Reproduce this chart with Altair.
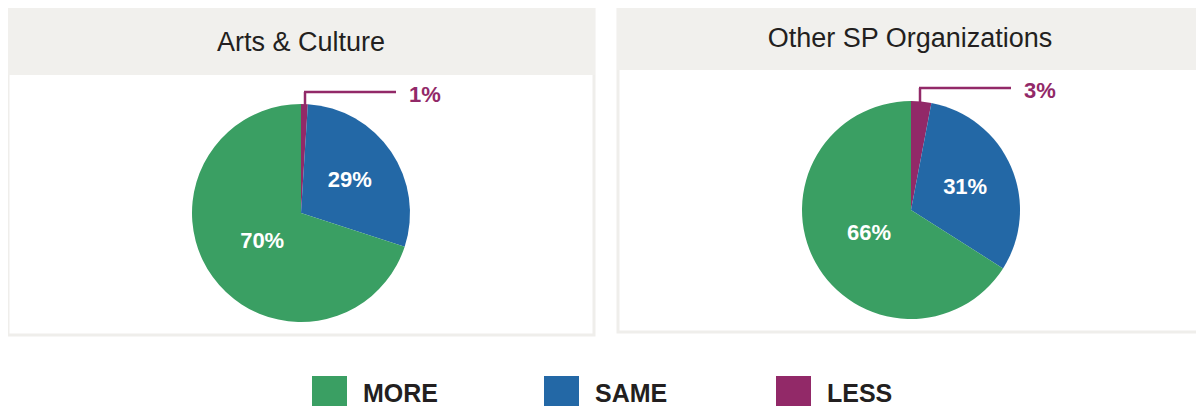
import altair as alt
import pandas as pd

# ---- data ----
GROUPS = ["Arts & Culture", "Arts & Culture", "Arts & Culture",
          "Other SP Organizations", "Other SP Organizations", "Other SP Organizations"]
CATEGORIES = ["LESS", "SAME", "MORE", "LESS", "SAME", "MORE"]
VALUES = [1, 29, 70, 3, 31, 66]
PANEL_TITLES = ["Arts & Culture", "Other SP Organizations"]
LEGEND_ORDER = ["MORE", "SAME", "LESS"]
COLORS = ["#3a9f63", "#2368a6", "#922968"]

df = pd.DataFrame({"group": GROUPS, "category": CATEGORIES, "value": VALUES})
df["label"] = df["value"].astype(str) + "%"
titles_df = pd.DataFrame({"title": PANEL_TITLES})

FONT = "Liberation Sans"
PURPLE = COLORS[2]
BORDER = "#efeeeb"
HEADER = "#f1f0ed"

color_scale = alt.Scale(domain=LEGEND_ORDER, range=COLORS)
theta_scale = alt.Scale(domain=[0, 100])
blank = alt.Data(values=[{}])


def panel(idx, x0, x1, y0, y1, hdr, cx, cy, lead_x, lead_y, with_legend):
    g = PANEL_TITLES[idx]
    frame = alt.Chart(blank).mark_rect(fill="white", stroke=BORDER, strokeWidth=3).encode(
        x=alt.value(x0), x2=alt.value(x1), y=alt.value(y0), y2=alt.value(y1))
    header = alt.Chart(blank).mark_rect(fill=HEADER).encode(
        x=alt.value(x0 - 1), x2=alt.value(x1 + 1), y=alt.value(y0 - 1), y2=alt.value(hdr))
    title = alt.Chart(titles_df).transform_filter(alt.datum.title == g).mark_text(
        font=FONT, fontSize=27, color="#231f20", align="center", baseline="middle"
    ).encode(text="title:N", x=alt.value((x0 + x1) / 2), y=alt.value((y0 + hdr) / 2 + 1))

    base = alt.Chart(df).transform_filter(alt.datum.group == g).transform_calculate(
        ord="datum.category == 'LESS' ? 0 : (datum.category == 'SAME' ? 1 : 2)",
        inlabel="datum.category == 'LESS' ? '' : datum.label",
        lr="datum.category == 'MORE' ? 48 : 59",
    )
    legend = alt.Legend(
        orient="none", legendX=304, legendY=368, direction="horizontal", title=None,
        symbolType="square", symbolSize=1225, symbolStrokeWidth=0, symbolOpacity=1,
        labelFont=FONT, labelFontWeight="bold", labelFontSize=25, labelColor="#231f20",
        labelOffset=16, columnPadding=106, gridAlign="all", columns=3, padding=0,
        labelLimit=400, labelBaseline="middle",
    ) if with_legend else None
    arcs = base.mark_arc(radius=109).encode(
        theta=alt.Theta("value:Q", stack=True, scale=theta_scale),
        order=alt.Order("ord:Q"),
        color=alt.Color("category:N", scale=color_scale, legend=legend),
        x=alt.value(cx), y=alt.value(cy),
    )
    inner = base.transform_window(
        cum="sum(value)", sort=[alt.SortField("ord")], frame=[None, 0]
    ).transform_calculate(mid="datum.cum - datum.value / 2").mark_text(
        font=FONT, fontWeight="bold", fontSize=22, color="white",
        align="center", baseline="middle").encode(
        theta=alt.Theta("mid:Q", stack=None, scale=theta_scale),
        radius=alt.Radius("lr:Q", scale=None),
        text="inlabel:N",
        x=alt.value(cx), y=alt.value(cy),
    )
    top_y = cy - 109
    vrule = alt.Chart(blank).mark_rule(color=PURPLE, strokeWidth=2.5).encode(
        x=alt.value(lead_x), y=alt.value(lead_y), y2=alt.value(top_y + 2))
    hrule = alt.Chart(blank).mark_rule(color=PURPLE, strokeWidth=2.5).encode(
        x=alt.value(lead_x - 1), x2=alt.value(lead_x + 91), y=alt.value(lead_y))
    outer = base.transform_filter(alt.datum.category == "LESS").mark_text(
        font=FONT, fontWeight="bold", fontSize=22, color=PURPLE, align="left", baseline="middle"
    ).encode(text="label:N", x=alt.value(lead_x + 104), y=alt.value(lead_y + 3))
    return [frame, header, title, arcs, inner, vrule, hrule, outer]


layers = panel(0, 0, 586, 1, 327, 67, 293, 205, 297, 84, True) + \
         panel(1, 610, 1194, -2, 324, 62, 903, 202, 912, 80, False)

chart = alt.layer(*layers).properties(
    width=1188, height=398,
    autosize=alt.AutoSizeParams(type="none"),
    padding=0,
    background="white",
).configure_view(stroke=None)

chart.save("out.html", embed_options={"renderer": "svg", "actions": False})
